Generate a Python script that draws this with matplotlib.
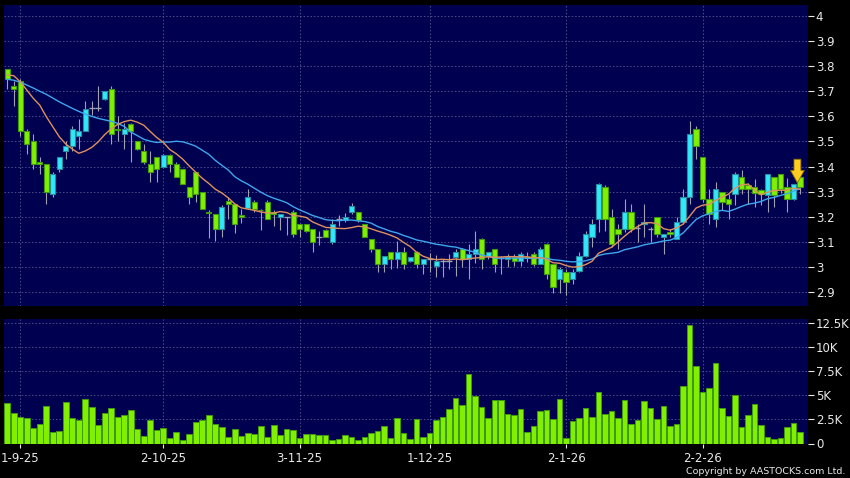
import numpy as np
import pandas as pd
import matplotlib
matplotlib.use("Agg")
import matplotlib.pyplot as plt

# ---------------- data ----------------
opens = [3.79, 3.72, 3.74, 3.54, 3.50, 3.42, 3.41, 3.29, 3.39, 3.46,
         3.48, 3.52, 3.54, 3.632, 3.632, 3.67, 3.71, 3.55, 3.53, 3.57,
         3.50, 3.46, 3.41, 3.44, 3.40, 3.445, 3.41, 3.39, 3.32, 3.38,
         3.30, 3.22, 3.21, 3.15, 3.263, 3.25, 3.205, 3.235, 3.26, 3.228,
         3.26, 3.22, 3.20, 3.20, 3.22, 3.17, 3.17, 3.15, 3.12, 3.147,
         3.10, 3.19, 3.185, 3.22, 3.22, 3.17, 3.11, 3.07, 3.01, 3.06,
         3.03, 3.06, 3.025, 3.06, 3.012, 3.03, 3.003, 3.025, 3.025, 3.04,
         3.07, 3.03, 3.05, 3.11, 3.043, 3.07, 3.035, 3.03, 3.04, 3.025,
         3.04, 3.05, 3.01, 3.09, 3.01, 2.95, 2.98, 2.95, 2.985, 3.045,
         3.12, 3.19, 3.32, 3.20, 3.15, 3.15, 3.22, 3.155, 3.17, 3.15,
         3.20, 3.12, 3.14, 3.11, 3.18, 3.28, 3.55, 3.44, 3.27, 3.19,
         3.30, 3.27, 3.29, 3.36, 3.325, 3.32, 3.305, 3.285, 3.36, 3.37,
         3.32, 3.27, 3.36]
highs = [3.79, 3.74, 3.75, 3.55, 3.53, 3.44, 3.41, 3.38, 3.44, 3.50,
         3.56, 3.59, 3.66, 3.66, 3.72, 3.70, 3.72, 3.60, 3.575, 3.575,
         3.50, 3.49, 3.46, 3.44, 3.45, 3.45, 3.42, 3.39, 3.32, 3.38,
         3.30, 3.225, 3.21, 3.245, 3.28, 3.25, 3.23, 3.31, 3.265, 3.23,
         3.265, 3.225, 3.21, 3.20, 3.225, 3.17, 3.17, 3.15, 3.143, 3.15,
         3.19, 3.207, 3.215, 3.255, 3.22, 3.17, 3.11, 3.07, 3.045, 3.06,
         3.105, 3.08, 3.04, 3.065, 3.03, 3.055, 3.047, 3.03, 3.05, 3.07,
         3.075, 3.09, 3.145, 3.115, 3.06, 3.07, 3.045, 3.05, 3.05, 3.06,
         3.06, 3.06, 3.08, 3.095, 3.01, 3.00, 2.99, 2.99, 3.06, 3.145,
         3.19, 3.335, 3.325, 3.23, 3.17, 3.27, 3.25, 3.17, 3.25, 3.16,
         3.20, 3.13, 3.15, 3.20, 3.31, 3.58, 3.56, 3.44, 3.31, 3.34,
         3.30, 3.29, 3.38, 3.385, 3.335, 3.35, 3.31, 3.37, 3.36, 3.37,
         3.356, 3.33, 3.365]
lows = [3.71, 3.64, 3.52, 3.45, 3.39, 3.37, 3.25, 3.28, 3.38, 3.43,
        3.46, 3.47, 3.54, 3.605, 3.62, 3.665, 3.49, 3.50, 3.47, 3.42,
        3.465, 3.41, 3.34, 3.34, 3.40, 3.38, 3.36, 3.33, 3.25, 3.26,
        3.23, 3.115, 3.105, 3.12, 3.19, 3.135, 3.176, 3.23, 3.22, 3.147,
        3.19, 3.165, 3.147, 3.127, 3.12, 3.12, 3.14, 3.06, 3.087, 3.12,
        3.09, 3.163, 3.18, 3.21, 3.18, 3.12, 3.06, 2.98, 2.98, 2.99,
        2.995, 2.99, 3.02, 2.995, 2.97, 2.98, 2.961, 2.96, 2.99, 2.965,
        3.00, 2.95, 3.015, 2.99, 3.03, 2.98, 2.97, 3.00, 3.005, 3.005,
        3.02, 3.005, 3.01, 2.95, 2.895, 2.895, 2.89, 2.93, 2.98, 3.04,
        3.08, 3.14, 3.145, 3.08, 3.07, 3.14, 3.14, 3.10, 3.12, 3.10,
        3.12, 3.05, 3.12, 3.11, 3.17, 3.25, 3.43, 3.26, 3.17, 3.16,
        3.225, 3.19, 3.245, 3.29, 3.25, 3.24, 3.245, 3.22, 3.24, 3.295,
        3.22, 3.265, 3.29]
closes = [3.75, 3.71, 3.54, 3.49, 3.41, 3.41, 3.30, 3.37, 3.44, 3.48,
          3.55, 3.54, 3.63, 3.632, 3.632, 3.70, 3.53, 3.545, 3.55, 3.54,
          3.47, 3.42, 3.38, 3.39, 3.445, 3.41, 3.36, 3.33, 3.28, 3.29,
          3.23, 3.215, 3.15, 3.24, 3.25, 3.17, 3.20, 3.28, 3.23, 3.226,
          3.19, 3.21, 3.21, 3.20, 3.13, 3.15, 3.145, 3.10, 3.12, 3.12,
          3.17, 3.19, 3.20, 3.243, 3.185, 3.12, 3.07, 3.01, 3.045, 3.03,
          3.06, 3.01, 3.04, 3.01, 3.03, 3.03, 3.025, 3.025, 3.025, 3.06,
          3.03, 3.05, 3.07, 3.03, 3.06, 3.01, 3.035, 3.04, 3.025, 3.05,
          3.035, 3.01, 3.07, 2.97, 2.921, 2.99, 2.94, 2.98, 3.045, 3.13,
          3.17, 3.33, 3.19, 3.09, 3.13, 3.22, 3.15, 3.155, 3.18, 3.15,
          3.13, 3.13, 3.13, 3.18, 3.28, 3.53, 3.48, 3.27, 3.21, 3.31,
          3.26, 3.25, 3.37, 3.31, 3.31, 3.295, 3.29, 3.37, 3.285, 3.31,
          3.27, 3.33, 3.32]
volumes_k = [4.24, 3.14, 2.72, 2.66, 1.59, 2.03, 3.83, 1.17, 1.28, 4.31,
             2.59, 2.38, 4.59, 3.76, 1.90, 3.14, 3.69, 2.79, 3.00, 3.48,
             1.45, 0.76, 2.41, 1.41, 1.62, 0.59, 1.17, 0.34, 1.00, 2.20,
             2.41, 2.93, 2.03, 1.69, 0.72, 1.55, 0.76, 1.10, 0.97, 1.86,
             0.66, 1.90, 0.93, 1.55, 1.38, 0.62, 1.03, 1.00, 0.83, 0.83,
             0.38, 0.48, 0.86, 0.72, 0.34, 0.72, 1.07, 1.28, 1.83, 0.52,
             2.62, 1.07, 0.45, 2.52, 0.69, 1.10, 2.41, 2.76, 3.62, 4.66,
             4.00, 7.14, 4.93, 3.76, 2.59, 4.45, 4.48, 3.03, 2.93, 3.59,
             1.14, 1.76, 3.41, 3.45, 2.52, 4.62, 0.59, 2.31, 2.66, 3.72,
             2.76, 5.34, 3.03, 3.38, 2.66, 4.55, 2.00, 2.48, 4.38, 3.69,
             2.52, 3.93, 1.79, 1.97, 6.00, 12.24, 8.03, 5.31, 5.69, 8.28,
             3.72, 2.83, 4.97, 1.66, 3.00, 4.07, 1.90, 0.66, 0.48, 0.52,
             1.69, 2.10, 1.14]
# moving-average values read off the chart where the averaging window
# reaches back before the first visible session
ma10_head = [3.765, 3.762, 3.738, 3.705, 3.672, 3.645, 3.599, 3.559, 3.519]
ma20_head = [3.748, 3.744, 3.736, 3.725, 3.713, 3.700, 3.688, 3.673, 3.658,
             3.645, 3.632, 3.620, 3.609, 3.600, 3.592, 3.586, 3.580, 3.572,
             3.560]

date_tick_pos = [2, 24, 45, 65, 86, 107]
date_tick_labels = ["1-9-25", "2-10-25", "3-11-25", "1-12-25", "2-1-26", "2-2-26"]
price_ticks = [2.9, 3.0, 3.1, 3.2, 3.3, 3.4, 3.5, 3.6, 3.7, 3.8, 3.9, 4.0]
price_tick_labels = ["2.9", "3", "3.1", "3.2", "3.3", "3.4", "3.5", "3.6",
                     "3.7", "3.8", "3.9", "4"]
vol_ticks = [0, 2500, 5000, 7500, 10000, 12500]
vol_tick_labels = ["0", "2.5K", "5K", "7.5K", "10K", "12.5K"]

# ---------------- derived ----------------
o = np.array(opens); h = np.array(highs); l = np.array(lows); c = np.array(closes)
vol = np.array(volumes_k) * 1000
n = len(c)
x = np.arange(n)
cs = pd.Series(c)
ma10 = cs.rolling(10).mean().to_numpy()
ma20 = cs.rolling(20).mean().to_numpy()
ma10[:len(ma10_head)] = ma10_head
ma20[:len(ma20_head)] = ma20_head

# ---------------- style ----------------
BG = "#000050"
GRID = "#5e5e98"
TXT = "#e8e8e8"
GREEN_F, GREEN_E = "#80f000", "#3f9a10"
CYAN_F, CYAN_E = "#30e8f8", "#2a8aa0"
WICK = "#a0a0b0"

W, H = 850, 478
fig = plt.figure(figsize=(W / 100, H / 100), dpi=100, facecolor="black")
left, right = 4, 807.5
ax1 = fig.add_axes([left / W, 1 - 306 / H, (right - left) / W, (306 - 5) / H])
ax2 = fig.add_axes([left / W, 1 - 443.5 / H, (right - left) / W, (443.5 - 319) / H])

for ax in (ax1, ax2):
    ax.set_facecolor(BG)
    for s in ax.spines.values():
        s.set_visible(False)
    ax.set_xlim(-0.5, n + 0.15)
    ax.yaxis.tick_right()
    ax.tick_params(axis="y", colors=TXT, labelsize=8.5, length=4, width=0.8,
                   pad=2, direction="out")
    ax.set_xticks(date_tick_pos)
    ax.grid(True, color=GRID, linestyle=(0, (2.0, 2.5)), linewidth=0.55)
    ax.set_axisbelow(True)

# ---- price panel ----
ax1.set_ylim(2.8442, 4.0438)
ax1.set_yticks(price_ticks)
ax1.set_yticklabels(price_tick_labels)
ax1.tick_params(axis="x", length=0, labelbottom=False)

ax1.vlines(x, l, h, color=WICK, linewidth=0.8, zorder=2)
up = c > o + 1e-4
down = c < o - 1e-4
flat = ~(up | down)
ax1.bar(x[up], (c - o)[up], bottom=o[up], width=0.8, color=CYAN_F,
        edgecolor=CYAN_E, linewidth=0.8, zorder=3)
ax1.bar(x[down], (o - c)[down], bottom=c[down], width=0.8, color=GREEN_F,
        edgecolor=GREEN_E, linewidth=0.8, zorder=3)
ax1.hlines(c[flat], x[flat] - 0.45, x[flat] + 0.45, color=WICK, linewidth=1.0, zorder=3)

ax1.plot(x, ma20, color="#3ea6ee", linewidth=1.0, zorder=4)
ax1.plot(x, ma10, color="#e0905c", linewidth=1.0, zorder=5)

# marker arrow on the latest session
ax1.annotate("", xy=(x[-1] - 0.4, c[-1] + 0.015), xycoords="data",
             xytext=(0, 17), textcoords="offset points",
             arrowprops=dict(arrowstyle="simple,head_length=0.9,head_width=1.0,tail_width=0.5",
                             mutation_scale=10, facecolor="#ffcc20",
                             edgecolor="#8a6a00", linewidth=0.6,
                             shrinkA=0, shrinkB=0),
             zorder=6)

# ---- volume panel ----
ax2.bar(x, vol, width=0.87, color=GREEN_F, edgecolor=GREEN_E, linewidth=0.7, zorder=3)
ax2.set_ylim(0, 12880)
ax2.set_yticks(vol_ticks)
ax2.set_yticklabels(vol_tick_labels)
ax2.set_xticklabels(date_tick_labels)
ax2.tick_params(axis="x", colors=TXT, labelsize=8.5, length=3, width=0.8, pad=3)

fig.text(845 / W, 1 - 471 / H, "Copyright by AASTOCKS.com Ltd.", color=TXT,
         fontsize=6.8, ha="right", va="center")

fig.savefig("out.png", dpi=100, facecolor="black")
